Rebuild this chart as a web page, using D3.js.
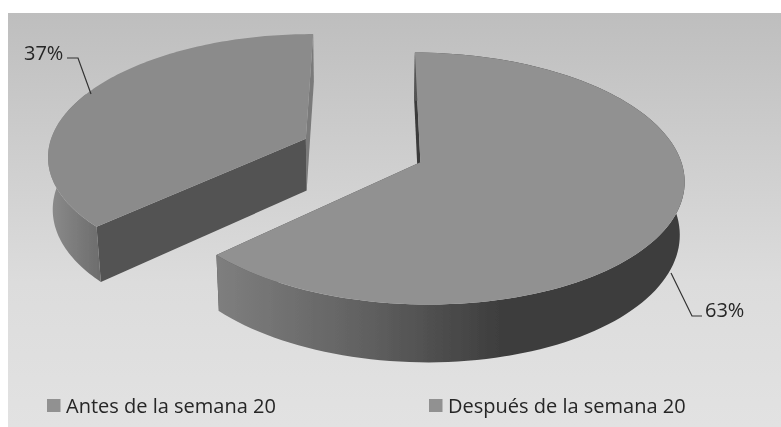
<!DOCTYPE html>
<html>
<head>
<meta charset="utf-8">
<script src="https://cdn.jsdelivr.net/npm/d3@7/dist/d3.min.js"></script>
<style>
html, body { margin: 0; padding: 0; background: #fff; }
svg { display: block; }
text { font-family: "Open Sans", sans-serif; fill: #262626; }
</style>
</head>
<body>
<div id="chart"></div>
<script>
var categories = ["Antes de la semana 20", "Después de la semana 20"];
var values = [63, 37];
var explode = [0.2315, 0.2536];
var topColors = ["#919191", "#8b8b8b"];

var width = 781, height = 427;
var svg = d3.select("#chart").append("svg").attr("width", width).attr("height", height);
var defs = svg.append("defs");

defs.append("filter").attr("id", "soft").append("feGaussianBlur").attr("stdDeviation", 0.35);

var bg = defs.append("linearGradient").attr("id", "bg").attr("x1", 0).attr("y1", 0).attr("x2", 0).attr("y2", 1);
bg.append("stop").attr("offset", "0%").attr("stop-color", "#bebebe");
bg.append("stop").attr("offset", "65%").attr("stop-color", "#dcdcdc");
bg.append("stop").attr("offset", "100%").attr("stop-color", "#e2e2e2");
svg.append("rect").attr("x", 8).attr("y", 13).attr("width", width - 8).attr("height", height - 13).attr("fill", "url(#bg)");

var chart = svg.append("g").attr("filter", "url(#soft)");

// wall shading runs left to right across each slice
function wallGradient(id, x1, x2, stops) {
  var g = defs.append("linearGradient").attr("id", id).attr("gradientUnits", "userSpaceOnUse")
    .attr("x1", x1).attr("y1", 0).attr("x2", x2).attr("y2", 0);
  stops.forEach(function (s) { g.append("stop").attr("offset", s[0]).attr("stop-color", s[1]); });
}
wallGradient("wall0", 219, 686, [[0, "#7e7e7e"], [0.3, "#626262"], [0.6, "#3e3e3e"], [1, "#3c3c3c"]]);
wallGradient("wall1", 52, 101, [[0, "#8a8a8a"], [1, "#6c6c6c"]]);

// perspective projection of the disc: a right, b toward viewer, z down
var x0 = 365, y0 = 151, B = 258, A = 121, H = 53, p = -0.127, q = 0.015;
function project(a, b, z) {
  var w = 1 + p * b + q * z;
  return [x0 + B * a / w, y0 + (A * b + H * z) / w];
}

var pie = d3.pie().sort(null).startAngle(0.2 * Math.PI / 180).endAngle(360.2 * Math.PI / 180);
var arcs = pie(values);
var line = d3.line();

function rimPoints(d, i, z) {
  var mid = (d.startAngle + d.endAngle) / 2;
  var ox = explode[i] * Math.sin(mid), oy = -explode[i] * Math.cos(mid);
  return d3.range(0, 1.0001, 1 / 120).map(function (t) {
    var ang = d.startAngle + t * (d.endAngle - d.startAngle);
    return project(ox + Math.sin(ang), oy - Math.cos(ang), z);
  });
}
function apex(d, i, z) {
  var mid = (d.startAngle + d.endAngle) / 2;
  return project(explode[i] * Math.sin(mid), -explode[i] * Math.cos(mid), z);
}

// draw the exploded back slice first, big slice over it
[1, 0].forEach(function (i) {
  var d = arcs[i];
  var top = rimPoints(d, i, 0), bot = rimPoints(d, i, 1);
  var a0 = apex(d, i, 0), a1 = apex(d, i, 1);
  var g = chart.append("g");

  // cut faces
  g.append("path").attr("d", line([a0, top[top.length - 1], bot[bot.length - 1], a1]) + "Z")
    .attr("fill", i === 1 ? "#7a7a7a" : "#4a4a4a");
  g.append("path").attr("d", line([a0, top[0], bot[0], a1]) + "Z")
    .attr("fill", i === 1 ? "#525252" : "#3a3a3a");

  // outer wall, only the part facing the viewer
  var n = top.length - 1;
  var to = i === 0 ? n : Math.round(n * 0.5);
  var wall = top.slice(0, to + 1).concat(bot.slice(0, to + 1).reverse());
  g.append("path").attr("d", line(wall) + "Z").attr("fill", "url(#wall" + i + ")");

  // top surface
  g.append("path").attr("d", line([a0].concat(top)) + "Z").attr("fill", topColors[i]);
});

// leader lines and percent labels
var labels = [
  { text: values[1] + "%", x: 24, y: 60, leader: [[67, 58], [78, 58], [91, 94]] },
  { text: values[0] + "%", x: 705, y: 317, leader: [[671, 273], [692, 316], [702, 316]] }
];
labels.forEach(function (l) {
  chart.append("path").attr("d", line(l.leader)).attr("fill", "none").attr("stroke", "#333").attr("stroke-width", 1.2);
  chart.append("text").attr("x", l.x).attr("y", l.y).attr("font-size", 20).text(l.text);
});

// legend
var legendX = [47, 429];
categories.forEach(function (c, i) {
  chart.append("rect").attr("x", legendX[i]).attr("y", 399).attr("width", 13.5).attr("height", 13).attr("fill", "#919191");
  chart.append("text").attr("x", legendX[i] + 19).attr("y", 413).attr("font-size", 20).text(c);
});
</script>
</body>
</html>
